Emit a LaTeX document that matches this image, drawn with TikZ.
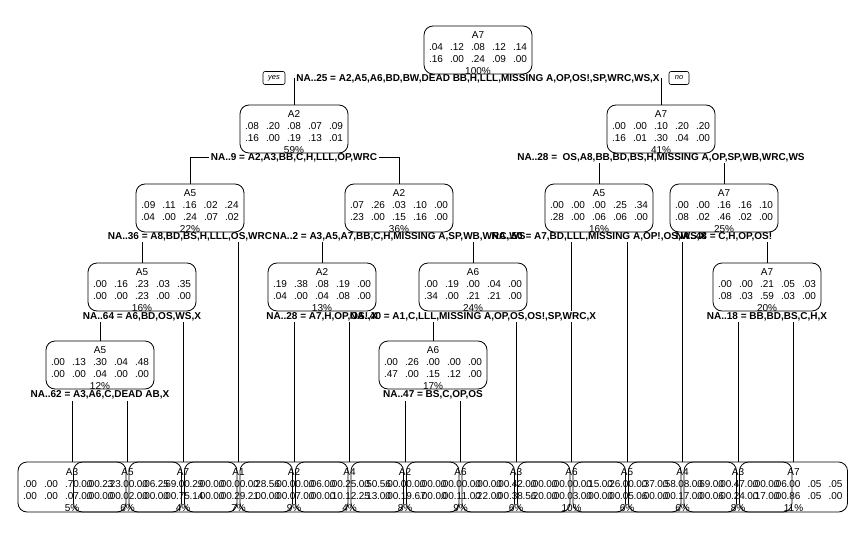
\documentclass[tikz,border=0pt]{standalone}
\usepackage{fontspec}
\setmainfont{Liberation Sans}
\usetikzlibrary{backgrounds}

% four text lines of a tree node, set a little low in the box
\newcommand{\nbody}[4]{\spaceskip 7.1pt\relax\raisebox{-4.3pt}[\height][\depth]{\begin{tabular}{@{}c@{}}#1\\#2\\#3\\#4\end{tabular}}}

\begin{document}
\begin{tikzpicture}[x=1pt,y=-1pt]
        \tikzstyle{every node}=[font=\fontsize{10}{11.8}\selectfont]
        \tikzstyle{tnode}=[draw, line width=0.8pt, rounded corners=9pt, inner sep=0pt,
            minimum width=108pt, minimum height=48pt]
        \tikzstyle{leaf}=[tnode, minimum height=50pt]
        \tikzstyle{split}=[inner sep=1.5pt, font=\fontsize{10}{11.8}\selectfont\bfseries]
        \tikzstyle{yesno}=[draw, line width=0.6pt, rounded corners=2pt, inner sep=1pt,
            minimum height=13pt, font=\fontsize{7.5}{8}\selectfont\itshape]
        \tikzstyle{branch}=[line width=0.8pt]

        \useasboundingbox (0,0) rectangle (866,540);

        \node[tnode] (n) at (478,50) {\nbody{A7}{.04 .12 .08 .12 .14}{.16 .00 .24 .09 .00}{100\%}};
        \node[tnode] (nL) at (294,129) {\nbody{A2}{.08 .20 .08 .07 .09}{.16 .00 .19 .13 .01}{59\%}};
        \node[tnode] (nR) at (661,129) {\nbody{A7}{.00 .00 .10 .20 .20}{.16 .01 .30 .04 .00}{41\%}};
        \node[tnode] (nLL) at (190,208) {\nbody{A5}{.09 .11 .16 .02 .24}{.04 .00 .24 .07 .02}{22\%}};
        \node[tnode] (nLR) at (399,208) {\nbody{A2}{.07 .26 .03 .10 .00}{.23 .00 .15 .16 .00}{36\%}};
        \node[tnode] (nRL) at (599,208) {\nbody{A5}{.00 .00 .00 .25 .34}{.28 .00 .06 .06 .00}{16\%}};
        \node[tnode] (nRR) at (724,208) {\nbody{A7}{.00 .00 .16 .16 .10}{.08 .02 .46 .02 .00}{25\%}};
        \node[tnode] (nLLL) at (142,287) {\nbody{A5}{.00 .16 .23 .03 .35}{.00 .00 .23 .00 .00}{16\%}};
        \node[tnode] (nLRL) at (322,287) {\nbody{A2}{.19 .38 .08 .19 .00}{.04 .00 .04 .08 .00}{13\%}};
        \node[tnode] (nLRR) at (473,287) {\nbody{A6}{.00 .19 .00 .04 .00}{.34 .00 .21 .21 .00}{24\%}};
        \node[tnode] (nRRR) at (767,287) {\nbody{A7}{.00 .00 .21 .05 .03}{.08 .03 .59 .03 .00}{20\%}};
        \node[tnode] (nLLLL) at (100,365) {\nbody{A5}{.00 .13 .30 .04 .48}{.00 .00 .04 .00 .00}{12\%}};
        \node[tnode] (nLRRL) at (433,365) {\nbody{A6}{.00 .26 .00 .00 .00}{.47 .00 .15 .12 .00}{17\%}};

        % leaves
        \node[leaf] (f1) at (72,487) {\nbody{A3}{.00 .00 .70 .00 .23}{.00 .00 .07 .00 .00}{5\%}};
        \node[leaf] (f2) at (127.5,487) {\nbody{A5}{.00 .23 .00 .06 .69}{.00 .00 .02 .00 .00}{6\%}};
        \node[leaf] (f3) at (183,487) {\nbody{A7}{.00 .25 .00 .00 .00}{.00 .00 .75 .00 .00}{4\%}};
        \node[leaf] (f4) at (238.5,487) {\nbody{A1}{.29 .00 .00 .28 .00}{.14 .00 .29 .00 .00}{7\%}};
        \node[leaf] (f5) at (294,487) {\nbody{A2}{.00 .56 .00 .06 .00}{.21 .00 .07 .00 .10}{9\%}};
        \node[leaf] (f6) at (349.5,487) {\nbody{A4}{.00 .00 .25 .50 .00}{.00 .00 .12 .13 .00}{4\%}};
        \node[leaf] (f7) at (405,487) {\nbody{A2}{.00 .56 .00 .00 .00}{.25 .00 .19 .00 .00}{8\%}};
        \node[leaf] (f8) at (460.5,487) {\nbody{A6}{.00 .00 .00 .00 .00}{.67 .00 .11 .22 .00}{9\%}};
        \node[leaf] (f9) at (516,487) {\nbody{A3}{.00 .00 .42 .00 .00}{.00 .00 .38 .20 .00}{6\%}};
        \node[leaf] (f10) at (571.5,487) {\nbody{A6}{.00 .00 .00 .15 .26}{.56 .00 .03 .00 .00}{10\%}};
        \node[leaf] (f11) at (627,487) {\nbody{A5}{.00 .00 .00 .37 .58}{.00 .00 .05 .00 .00}{6\%}};
        \node[leaf] (f12) at (682.5,487) {\nbody{A4}{.00 .00 .08 .69 .00}{.06 .00 .17 .00 .00}{6\%}};
        \node[leaf] (f13) at (738,487) {\nbody{A3}{.00 .00 .47 .00 .06}{.00 .06 .24 .17 .00}{8\%}};
        \node[leaf] (f14) at (793.5,487) {\nbody{A7}{.00 .00 .00 .05 .05}{.00 .00 .86 .05 .00}{11\%}};

        % split rules
        \node[split] (sn) at (478,78.5) {NA..25 = A2,A5,A6,BD,BW,DEAD BB,H,LLL,MISSING A,OP,OS!,SP,WRC,WS,X};
        \node[split] (sL) at (294,157.5) {NA..9 = A2,A3,BB,C,H,LLL,OP,WRC};
        \node[split] (sR) at (661,157.5) {NA..28 = \ OS,A8,BB,BD,BS,H,MISSING A,OP,SP,WB,WRC,WS};
        \node[split] (sLL) at (190,236.5) {NA..36 = A8,BD,BS,H,LLL,OS,WRC};
        \node[split] (sLR) at (399,236.5) {NA..2 = A3,A5,A7,BB,C,H,MISSING A,SP,WB,WRC,WS};
        \node[split] (sRL) at (599,236.5) {NA..50 = A7,BD,LLL,MISSING A,OP!,OS,WS,X};
        \node[split] (sRR) at (724,236.5) {NA..48 = C,H,OP,OS!};
        \node[split] (sLLL) at (142,316.5) {NA..64 = A6,BD,OS,WS,X};
        \node[split] (sLRL) at (322,316.5) {NA..28 = A7,H,OP,OS!,X};
        \node[split] (sLRR) at (473,316.5) {NA..40 = A1,C,LLL,MISSING A,OP,OS,OS!,SP,WRC,X};
        \node[split] (sRRR) at (767,316.5) {NA..18 = BB,BD,BS,C,H,X};
        \node[split] (sLLLL) at (100,395) {NA..62 = A3,A6,C,DEAD AB,X};
        \node[split] (sLRRL) at (433,395) {NA..47 = BS,C,OP,OS};

        \node[yesno, minimum width=22pt] (yes) at (274,78) {yes};
        \node[yesno, minimum width=20pt] (no) at (679,78) {no};

        \begin{scope}[on background layer]
            \draw[branch] (nL.north) |- (sn.center) -| (nR.north);
            \draw[branch] (nLL.north) |- (sL.center) -| (nLR.north);
            \draw[branch] (nRL.north) |- (sR.center) -| (nRR.north);
            \draw[branch] (nLLL.north) |- (sLL.center) -| (f4.north);
            \draw[branch] (nLRL.north) |- (sLR.center) -| (nLRR.north);
            \draw[branch] (f10.north) |- (sRL.center) -| (f11.north);
            \draw[branch] (f12.north) |- (sRR.center) -| (nRRR.north);
            \draw[branch] (nLLLL.north) |- (sLLL.center) -| (f3.north);
            \draw[branch] (f5.north) |- (sLRL.center) -| (f6.north);
            \draw[branch] (nLRRL.north) |- (sLRR.center) -| (f9.north);
            \draw[branch] (f13.north) |- (sRRR.center) -| (f14.north);
            \draw[branch] (f1.north) |- (sLLLL.center) -| (f2.north);
            \draw[branch] (f7.north) |- (sLRRL.center) -| (f8.north);
            % white under the rule texts
            \foreach \s in {sn,sL,sR,sLL,sLR,sRL,sRR,sLLL,sLRL,sLRR,sRRR,sLLLL,sLRRL}
                \fill[white] (\s.south west) rectangle (\s.north east);
        \end{scope}
\end{tikzpicture}
\end{document}
